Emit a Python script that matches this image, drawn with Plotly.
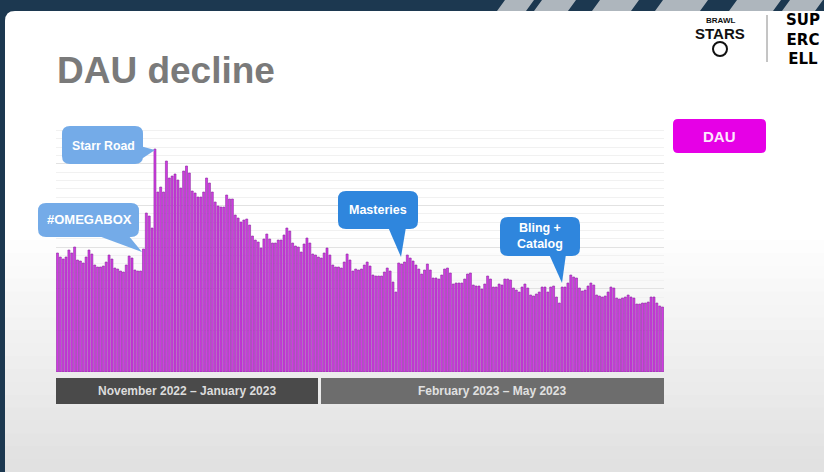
import plotly.graph_objects as go
import pandas as pd

W, H = 824, 472

# ---------------- data (relative DAU units) ----------------
dates = pd.date_range("2022-11-01", "2023-05-31", freq="D")  # 212 daily bars
dau = [
    119, 115, 113, 115, 122, 119, 125, 112, 111, 109, 115, 122, 118, 107, 105,
    105, 106, 110, 117, 113, 104, 103, 101, 100, 107, 116, 114, 102, 101, 101,
    123, 159, 156, 144, 223,
    180, 185, 180, 211, 194, 196, 198, 192, 184, 201, 206, 199, 181, 179, 175,
    175, 180, 194, 189, 180, 170, 166, 165, 165, 177, 173, 173, 157, 154, 150,
    152, 153, 147, 136, 132,
    130, 124, 133, 138, 133, 129, 129, 132, 132, 137, 144, 141, 129, 126, 125,
    120, 128, 134, 129, 118, 117, 115, 114, 119, 124, 117, 107, 105, 105, 104,
    110, 118, 112, 101, 103,
    102, 103, 107, 110, 106, 97, 96, 96, 96, 100, 104, 101, 90, 80, 109,
    108, 110, 117, 114, 111, 107, 103, 98, 102, 108, 102, 94, 94, 93, 97,
    103, 104, 99, 88, 89, 89,
    89, 93, 98, 99, 87, 86, 86, 83, 88, 96, 93, 85, 85, 88, 87,
    93, 93, 92, 84, 82, 80, 85, 88, 84, 77, 76, 78, 80, 85, 85,
    80, 85, 86, 75, 69, 85,
    85, 89, 97, 95, 94, 84, 81, 82, 86, 89, 87, 77, 76, 75, 76,
    80, 85, 84, 74, 73, 74, 75, 77, 75, 74, 68, 68, 69, 69, 70,
    75, 75, 69, 66, 65,
]
periods = ["November 2022 – January 2023", "February 2023 – May 2023"]
events = ["#OMEGABOX", "Starr Road", "Masteries", "Bling +<br>Catalog"]
title = "DAU decline"
series_name = "DAU"

FONT = "Liberation Sans, Arial, sans-serif"


def pp(x, y):
    return f"{x / W:.5f},{1 - y / H:.5f}"


def rrect(x0, y0, x1, y1, r):
    return (f"M {pp(x0 + r, y0)} L {pp(x1 - r, y0)} Q {pp(x1, y0)} {pp(x1, y0 + r)} "
            f"L {pp(x1, y1 - r)} Q {pp(x1, y1)} {pp(x1 - r, y1)} "
            f"L {pp(x0 + r, y1)} Q {pp(x0, y1)} {pp(x0, y1 - r)} "
            f"L {pp(x0, y0 + r)} Q {pp(x0, y0)} {pp(x0 + r, y0)} Z")


def tri(a, b, c):
    return f"M {pp(*a)} L {pp(*b)} L {pp(*c)} Z"


def pshape(path, color, layer="above"):
    return dict(type="path", xref="paper", yref="paper", path=path,
                fillcolor=color, line=dict(width=0), layer=layer)


def rect(x0, y0, x1, y1, color, layer="below"):
    return dict(type="rect", xref="paper", yref="paper",
                x0=x0 / W, x1=x1 / W, y0=1 - y1 / H, y1=1 - y0 / H,
                fillcolor=color, line=dict(width=0), layer=layer)


def text(x, y, s, size, color, xanchor="center", bold=True, family=FONT):
    return dict(xref="paper", yref="paper", x=x / W, y=1 - y / H, text=(f"<b>{s}</b>" if bold else s),
                showarrow=False, xanchor=xanchor, yanchor="middle",
                font=dict(size=size, color=color, family=family))


shapes = []
# page / slide background
shapes.append(rect(0, 0, W, H, "#1c3850"))
for x0, x1 in [(505, 526), (542, 568), (600, 631), (663, 700), (737, 773), (790, 815)]:
    shapes.append(pshape(tri((x0, 0), (x1 + 8, 0), (x1, 11)) + " " + tri((x0, 0), (x1, 11), (x0 - 8, 11)), "#aeb6bd", "below"))
shapes.append(pshape(rrect(5, 11, 860, 500, 10), "#ffffff", "below"))
# soft grey gradient toward the bottom of the slide
n = 18
for k in range(n):
    y0 = 240 + k * (H - 240) / n
    y1 = y0 + (H - 240) / n + 1
    g = int(255 - (255 - 225) * (k + 1) / n)
    shapes.append(rect(5, y0, W, y1, f"rgb({g},{g},{g})"))

# period boxes
shapes.append(rect(56, 378, 318, 404, "#4a4a4a", "above"))
shapes.append(rect(321, 378, 664, 404, "#6d6d6d", "above"))

# callouts
LB = "#74abe8"
DB = "#2f86dd"
shapes.append(pshape(rrect(62, 126, 143, 164, 8), LB))
shapes.append(pshape(tri((140, 146), (140, 160), (155, 150)), LB))
shapes.append(pshape(rrect(38, 203, 139, 237, 8), LB))
shapes.append(pshape(tri((96, 235), (128, 235), (142, 252)), LB))
shapes.append(pshape(rrect(338, 191, 418, 229, 8), DB))
shapes.append(pshape(tri((388, 227), (406, 227), (401, 257)), DB))
shapes.append(pshape(rrect(500, 217, 580, 256, 8), DB))
shapes.append(pshape(tri((549, 254), (566, 254), (562, 283)), DB))
# legend box
shapes.append(pshape(rrect(673, 119, 766, 153, 5), "#e600e6"))
# logo divider
shapes.append(dict(type="line", xref="paper", yref="paper", x0=767 / W, x1=767 / W,
                   y0=1 - 62 / H, y1=1 - 15 / H, line=dict(color="#8a8a8a", width=1)))
shapes.append(dict(type="circle", xref="paper", yref="paper", x0=713 / W, x1=727 / W,
                   y0=1 - 56 / H, y1=1 - 42 / H, line=dict(color="#111", width=2), fillcolor="#fff"))

annotations = [
    text(55, 71, title, 37, "#7a7a7a", xanchor="left"),
    text(103, 146, events[1], 12.3, "#ffffff"),
    text(89, 219, events[0], 13, "#ffffff"),
    text(378, 210, events[2], 12.5, "#ffffff"),
    text(540, 236, events[3], 12.5, "#ffffff"),
    text(719.5, 136, series_name, 15, "#fde6fd"),
    text(187, 391, periods[0], 12, "#dcdcdc"),
    text(492, 391, periods[1], 12, "#e0e0e0"),
    text(720, 21, "BRAWL", 8, "#111111"),
    text(720, 33, "STARS", 15, "#111111"),
    text(803, 39, "SUP<br>ERC<br>ELL", 15, "#000000", family="DejaVu Sans, sans-serif"),
]

fig = go.Figure()
fig.add_trace(go.Bar(
    x=dates, y=dau, name=series_name,
    marker=dict(color="#d43ae6", line=dict(color="#8a2a9e", width=0.6)),
    hoverinfo="x+y",
))

fig.update_layout(
    width=W, height=H, margin=dict(l=0, r=0, t=0, b=0),
    paper_bgcolor="#ffffff", plot_bgcolor="rgba(0,0,0,0)",
    showlegend=False, bargap=0.3,
    shapes=shapes, annotations=annotations,
    xaxis=dict(domain=[56 / W, 664 / W],
               range=[dates[0] - pd.Timedelta(hours=12), dates[-1] + pd.Timedelta(hours=12)],
               showgrid=False, showticklabels=False, zeroline=False, showline=False, ticks=""),
    yaxis=dict(domain=[1 - 372 / H, 1 - 122 / H], range=[0, 250],
               tick0=0, dtick=250 / 6, showgrid=True, gridcolor="#e2e2e2", gridwidth=1,
               minor=dict(dtick=250 / 30, showgrid=True, gridcolor="#f1f1f1", gridwidth=1),
               showticklabels=False, zeroline=False, showline=False, ticks=""),
)

fig.write_html("out.html", config={"displayModeBar": False},
               post_script="document.body.style.margin='0';")
